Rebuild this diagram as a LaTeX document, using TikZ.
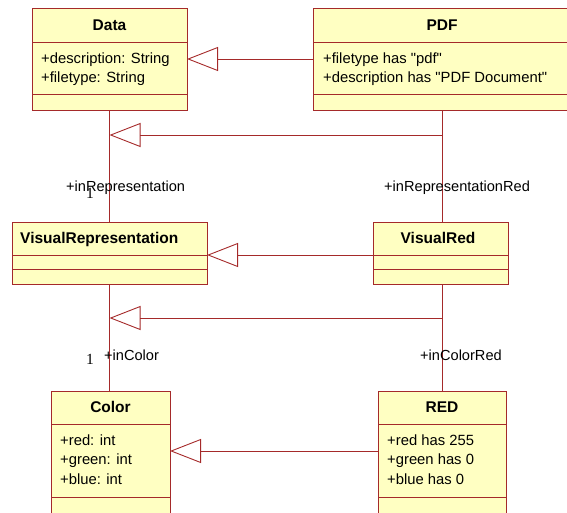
\documentclass[tikz,border=0pt]{standalone}
\usepackage{fontspec}
\setmainfont{Liberation Sans}
\newfontfamily\multfont{Liberation Serif}
\usetikzlibrary{positioning}
\usetikzlibrary{arrows.meta}
\definecolor{umlline}{RGB}{165,42,42}
\definecolor{umlfill}{RGB}{255,255,194}

\begin{document}
\begin{tikzpicture}[x=1pt,y=-1pt,
  classbox/.style={draw=umlline,fill=umlfill,line width=0.9pt,inner sep=0pt,outer sep=0pt,anchor=north west},
  divider/.style={draw=umlline,line width=0.9pt},
  classname/.style={font=\fontsize{15.5}{17}\selectfont\bfseries,inner sep=0pt,anchor=base},
  attr/.style={font=\fontsize{14.8}{17}\selectfont,anchor=base west,inner sep=0pt},
  role/.style={font=\fontsize{14.6}{17}\selectfont,anchor=base west,inner sep=0pt},
  mult/.style={font=\multfont\fontsize{15.5}{17}\selectfont,inner sep=0pt,anchor=base},
  assoc/.style={draw=umlline,line width=0.9pt},
  gen/.style={draw=umlline,line width=0.9pt,-{Triangle[open,length=31pt,width=24pt]}}]
 \useasboundingbox (0,0) rectangle (567,512);
 \clip (0,0) rectangle (567,512);
 % class boxes
 \node[classbox,minimum width=155pt,minimum height=102pt] (data) at (32,8) {};
 \node[classbox,minimum width=258pt,minimum height=102pt] (pdf) at (313,8) {};
 \node[classbox,minimum width=195pt,minimum height=62pt] (visrep) at (12,222) {};
 \node[classbox,minimum width=135pt,minimum height=62pt] (visred) at (373,222) {};
 \node[classbox,minimum width=119pt,minimum height=122pt] (color) at (51,391) {};
 \node[classbox,minimum width=128pt,minimum height=122pt] (red) at (378,391) {};
 % compartments
 \draw[divider] (data.west |- 0,42) -- (data.east |- 0,42);
 \draw[divider] (data.west |- 0,94) -- (data.east |- 0,94);
 \draw[divider] (pdf.west |- 0,42) -- (pdf.east |- 0,42);
 \draw[divider] (pdf.west |- 0,94) -- (pdf.east |- 0,94);
 \draw[divider] (visrep.west |- 0,255) -- (visrep.east |- 0,255);
 \draw[divider] (visrep.west |- 0,269) -- (visrep.east |- 0,269);
 \draw[divider] (visred.west |- 0,255) -- (visred.east |- 0,255);
 \draw[divider] (visred.west |- 0,269) -- (visred.east |- 0,269);
 \draw[divider] (color.west |- 0,424) -- (color.east |- 0,424);
 \draw[divider] (color.west |- 0,497) -- (color.east |- 0,497);
 \draw[divider] (red.west |- 0,424) -- (red.east |- 0,424);
 \draw[divider] (red.west |- 0,497) -- (red.east |- 0,497);
 % names
 \node[classname] (dataname) at (data.north |- 0,30.5) {Data};
 \node[classname] (pdfname) at (442,30.5) {PDF};
 \node[classname,anchor=base west] (visrepname) at (20,243.5) {VisualRepresentation};
 \node[classname] (visredname) at (438,243.5) {VisualRed};
 \node[classname] (colorname) at (color.north |- 0,412.5) {Color};
 \node[classname] (redname) at (red.north |- 0,412.5) {RED};
 % attributes
 \node[attr] (dataa) at (41,63) {+description: String};
 \node[attr] (datab) at (41,82) {+filetype: String};
 \node[attr] (pdfa) at (323,63) {+filetype has \textquotedbl pdf\textquotedbl};
 \node[attr] (pdfb) at (323,82) {+description has \textquotedbl PDF Document\textquotedbl};
 \node[attr] (colora) at (60,445) {+red: int};
 \node[attr] (colorb) at (60,464.5) {+green: int};
 \node[attr] (colorc) at (60,484) {+blue: int};
 \node[attr] (reda) at (387,445) {+red has 255};
 \node[attr] (redb) at (387,464.5) {+green has 0};
 \node[attr] (redc) at (387,484) {+blue has 0};
 % associations
 \draw[assoc] (data.south) -- (data.south |- visrep.north);
 \draw[assoc] (pdf.south) -- (pdf.south |- visred.north);
 \draw[assoc] (visrep.south) -- (visrep.south |- color.north);
 \draw[assoc] (pdf.south |- visred.south) -- (pdf.south |- red.north);
 \node[role] (inrep) at (66,191) {+inRepresentation};
 \node[mult] (inrepmult) at (90,198) {1};
 \node[role] (inrepred) at (384,191) {+inRepresentationRed};
 \node[role] (incolor) at (104,360) {+inColor};
 \node[mult] (incolormult) at (90,364) {1};
 \node[role] (incolorred) at (420,360) {+inColorRed};
 \path (data.south) ++(0,25) coordinate (repend);
 \path (pdf.south) ++(0,25) coordinate (repredend);
 \path (visrep.south) ++(0,34) coordinate (colend);
 \path (pdf.south |- visred.south) ++(0,34) coordinate (colredend);
 % generalizations
 \draw[gen] (pdf) -- (data);
 \draw[gen] (repredend) -- (repend);
 \draw[gen] (visred.west |- 0,255) -- (visrep.east |- 0,255);
 \draw[gen] (colredend) -- (colend);
 \draw[gen] (red.west |- 0,451) -- (color.east |- 0,451);
\end{tikzpicture}
\end{document}
